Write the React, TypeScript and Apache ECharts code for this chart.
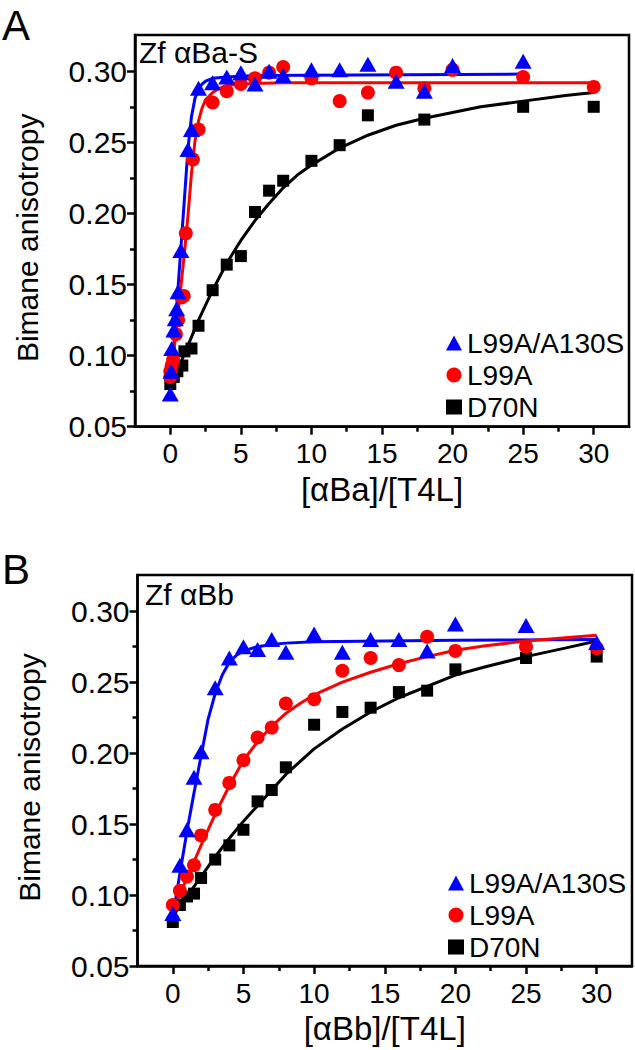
import React, { useEffect, useRef } from "react";
import * as echarts from "echarts";

// ---------- Panel A : Zf αBa-S ----------
const aBlueX = [0, 0.05, 0.1, 0.25, 0.35, 0.45, 0.55, 0.75, 1.25, 1.5, 2, 3, 4, 5, 6, 7, 8, 10, 12, 14, 16, 18, 20, 25];
const aBlueY = [0.073, 0.089, 0.105, 0.118, 0.126, 0.133, 0.145, 0.174, 0.245, 0.259, 0.288, 0.292, 0.296, 0.299, 0.291, 0.300, 0.297, 0.301, 0.301, 0.305, 0.293, 0.286, 0.304, 0.307];
const aRedX = [0, 0, 0.1, 0.2, 0.4, 0.55, 0.8, 0.95, 1.1, 1.6, 2, 3, 4, 5, 6, 7, 8, 10, 12, 14, 16, 18, 20, 25, 30];
const aRedY = [0.085, 0.089, 0.093, 0.097, 0.115, 0.125, 0.141, 0.142, 0.186, 0.238, 0.259, 0.278, 0.286, 0.291, 0.295, 0.299, 0.303, 0.295, 0.279, 0.285, 0.299, 0.288, 0.301, 0.296, 0.289];
const aBlackX = [0, 0.25, 0.5, 0.85, 1, 1.5, 2, 3, 4, 5, 6, 7, 8, 10, 12, 14, 18, 25, 30];
const aBlackY = [0.080, 0.085, 0.089, 0.093, 0.103, 0.105, 0.121, 0.146, 0.164, 0.170, 0.201, 0.216, 0.223, 0.237, 0.248, 0.269, 0.266, 0.275, 0.275];

// fitted curves
const aBlueFitX = [0, 0.5, 1.0, 1.25, 1.5, 1.75, 2, 2.25, 2.5, 3, 4, 6, 25];
const aBlueFitY = [0.073, 0.141, 0.210, 0.245, 0.268, 0.281, 0.287, 0.291, 0.293, 0.295, 0.296, 0.297, 0.298];
const aRedFitX = [0, 0.5, 1.0, 1.25, 1.5, 1.75, 2.0, 2.25, 2.5, 3, 3.5, 4, 5, 8, 30];
const aRedFitY = [0.080, 0.125, 0.172, 0.198, 0.228, 0.251, 0.265, 0.274, 0.280, 0.285, 0.288, 0.290, 0.291, 0.292, 0.292];
const aBlackFitX = [0, 0.5, 1, 1.5, 2, 3, 4, 5, 6, 7, 8, 9, 10, 12, 14, 16, 18, 20, 22, 25, 28, 30];
const aBlackFitY = [0.076, 0.089, 0.101, 0.113, 0.125, 0.146, 0.165, 0.181, 0.195, 0.207, 0.218, 0.227, 0.234, 0.246, 0.255, 0.262, 0.267, 0.271, 0.275, 0.279, 0.283, 0.285];

// ---------- Panel B : Zf αBb ----------
const bX = [0, 0.5, 1, 1.5, 2, 3, 4, 5, 6, 7, 8, 10, 12, 14, 16, 18, 20, 25, 30];
const bBlueY = [0.087, 0.121, 0.146, 0.183, 0.201, 0.246, 0.267, 0.275, 0.273, 0.280, 0.271, 0.284, 0.271, 0.280, 0.280, 0.272, 0.291, 0.290, 0.278];
const bRedY = [0.093, 0.103, 0.113, 0.121, 0.142, 0.160, 0.179, 0.195, 0.211, 0.218, 0.235, 0.238, 0.258, 0.267, 0.262, 0.282, 0.272, 0.275, 0.274];
const bBlackY = [0.081, 0.093, 0.099, 0.101, 0.112, 0.125, 0.135, 0.146, 0.166, 0.174, 0.190, 0.220, 0.229, 0.232, 0.243, 0.244, 0.259, 0.267, 0.268];

const bBlueFitX = [0, 0.5, 1, 1.5, 2, 2.5, 3, 3.5, 4, 4.5, 5, 6, 7, 8, 10, 20, 30];
const bBlueFitY = [0.085, 0.115, 0.145, 0.172, 0.198, 0.224, 0.242, 0.255, 0.264, 0.269, 0.272, 0.275, 0.2765, 0.2775, 0.2785, 0.2795, 0.280];
const bRedFitX = [0, 1, 2, 3, 4, 5, 6, 7, 8, 9, 10, 12, 14, 16, 18, 20, 22, 25, 28, 30];
const bRedFitY = [0.088, 0.112, 0.135, 0.157, 0.177, 0.195, 0.208, 0.219, 0.228, 0.235, 0.241, 0.250, 0.257, 0.263, 0.268, 0.2725, 0.2755, 0.279, 0.2815, 0.283];
const bBlackFitX = [0, 1, 2, 3, 4, 5, 6, 7, 8, 9, 10, 12, 14, 16, 18, 20, 22, 25, 28, 30];
const bBlackFitY = [0.085, 0.099, 0.113, 0.127, 0.140, 0.152, 0.163, 0.174, 0.185, 0.194, 0.203, 0.217, 0.229, 0.239, 0.247, 0.255, 0.2605, 0.268, 0.2745, 0.279];

// ---------- axes ----------
const xMajorTicks = [0, 5, 10, 15, 20, 25, 30];
const xMinorTicks = [2.5, 7.5, 12.5, 17.5, 22.5, 27.5];
const yMajorTicks = [0.05, 0.1, 0.15, 0.2, 0.25, 0.3];
const yMinorTicks = [0.075, 0.125, 0.175, 0.225, 0.275];
const seriesNames = ["L99A/A130S", "L99A", "D70N"];
const seriesColors = ["#0000ff", "#ff0000", "#000000"];
const seriesSymbols = ["triangle", "circle", "rect"];
const symbolSizes: any[] = [[17, 15], 14, 12];

const FONT = "Liberation Sans, Arial, sans-serif";

const zip = (xs: number[], ys: number[]) => xs.map((x, i) => [x, ys[i]]);

function makeXAxes(grid: number, name: string) {
  return [
    {
      type: "value", gridIndex: grid, position: "bottom", min: -2.5, max: 32.5,
      axisLine: { show: true, onZero: false, lineStyle: { color: "#000", width: 2.5 } },
      axisTick: { show: true, customValues: xMajorTicks, length: 8, lineStyle: { color: "#000", width: 2.5 } },
      axisLabel: { customValues: xMajorTicks, fontSize: 28, color: "#000", fontFamily: FONT, margin: 13 },
      splitLine: { show: false },
      name, nameLocation: "middle", nameGap: 46,
      nameTextStyle: { fontSize: 33, color: "#000", fontFamily: FONT },
    },
    {
      type: "value", gridIndex: grid, position: "bottom", min: -2.5, max: 32.5,
      axisLine: { show: false, onZero: false },
      axisTick: { show: true, customValues: xMinorTicks, length: 5, lineStyle: { color: "#000", width: 2.5 } },
      axisLabel: { show: false },
      splitLine: { show: false },
    },
  ];
}

function makeYAxes(grid: number) {
  return [
    {
      type: "value", gridIndex: grid, position: "left", min: 0.05, max: 0.3255,
      axisLine: { show: true, onZero: false, lineStyle: { color: "#000", width: 2.5 } },
      axisTick: { show: true, customValues: yMajorTicks, length: 8, lineStyle: { color: "#000", width: 2.5 } },
      axisLabel: {
        customValues: yMajorTicks, fontSize: 30, color: "#000", fontFamily: FONT, margin: 8,
        formatter: (v: number) => v.toFixed(2),
      },
      splitLine: { show: false },
      name: "Bimane anisotropy", nameLocation: "middle", nameGap: 93,
      nameTextStyle: { fontSize: 30, color: "#000", fontFamily: FONT, padding: [0, 14, 0, 0] },
    },
    {
      type: "value", gridIndex: grid, position: "left", min: 0.05, max: 0.3255,
      axisLine: { show: false, onZero: false },
      axisTick: { show: true, customValues: yMinorTicks, length: 5, lineStyle: { color: "#000", width: 2.5 } },
      axisLabel: { show: false },
      splitLine: { show: false },
    },
  ];
}

function fitSeries(axisIdx: number, idx: number, xs: number[], ys: number[]) {
  return {
    type: "line", name: seriesNames[idx] + " fit", xAxisIndex: axisIdx, yAxisIndex: axisIdx,
    data: zip(xs, ys), showSymbol: false, symbol: "none", smooth: false,
    lineStyle: { color: seriesColors[idx], width: 3, join: "round" }, itemStyle: { color: seriesColors[idx] },
    z: 2, silent: true,
  };
}

function pointSeries(axisIdx: number, idx: number, xs: number[], ys: number[]) {
  return {
    type: "scatter", name: seriesNames[idx], xAxisIndex: axisIdx, yAxisIndex: axisIdx,
    data: zip(xs, ys), symbol: seriesSymbols[idx], symbolSize: symbolSizes[idx],
    itemStyle: { color: seriesColors[idx], opacity: 1 }, z: 3,
  };
}

function makeLegend(left: number, top: number) {
  return {
    data: seriesNames, orient: "vertical", left, top, itemWidth: 16, itemHeight: 15, itemGap: 4,
    selectedMode: false,
    textStyle: { fontSize: 28, color: "#000", fontFamily: FONT },
  };
}

export default function App() {
  const ref = useRef<HTMLDivElement>(null);
  useEffect(() => {
    if (!ref.current) return;
    const chart = echarts.init(ref.current, null, { renderer: "svg" });
    const option: any = {
      animation: false,
      backgroundColor: "#fff",
      grid: [
        { left: 135, top: 35, width: 494, height: 391.7, show: true, borderColor: "#000", borderWidth: 2.5, containLabel: false },
        { left: 137.5, top: 575, width: 494.5, height: 391, show: true, borderColor: "#000", borderWidth: 2.5, containLabel: false },
      ],
      xAxis: [...makeXAxes(0, "[αBa]/[T4L]"), ...makeXAxes(1, "[αBb]/[T4L]")],
      yAxis: [...makeYAxes(0), ...makeYAxes(1)],
      legend: [makeLegend(441, 324), makeLegend(443, 864)],
      series: [
        fitSeries(0, 0, aBlueFitX, aBlueFitY),
        fitSeries(0, 1, aRedFitX, aRedFitY),
        fitSeries(0, 2, aBlackFitX, aBlackFitY),
        pointSeries(0, 2, aBlackX, aBlackY),
        pointSeries(0, 1, aRedX, aRedY),
        pointSeries(0, 0, aBlueX, aBlueY),
        fitSeries(2, 0, bBlueFitX, bBlueFitY),
        fitSeries(2, 1, bRedFitX, bRedFitY),
        fitSeries(2, 2, bBlackFitX, bBlackFitY),
        pointSeries(2, 2, bX, bBlackY),
        pointSeries(2, 1, bX, bRedY),
        pointSeries(2, 0, bX, bBlueY),
      ],
      graphic: [
        { type: "text", left: 2, top: 4, style: { text: "A", fontSize: 42, fill: "#000", fontFamily: FONT } },
        { type: "text", left: 2, top: 548, style: { text: "B", fontSize: 42, fill: "#000", fontFamily: FONT } },
        { type: "text", left: 139, top: 37, style: { text: "Zf αBa-S", fontSize: 30, fill: "#000", fontFamily: FONT } },
        { type: "text", left: 145, top: 579, style: { text: "Zf αBb", fontSize: 30, fill: "#000", fontFamily: FONT } },
      ],
    };
    chart.setOption(option);
    return () => chart.dispose();
  }, []);
  return (
    <div
      ref={ref}
      style={{ position: "absolute", left: 0, top: 0, width: 635, height: 1050, background: "#fff" }}
    />
  );
}
